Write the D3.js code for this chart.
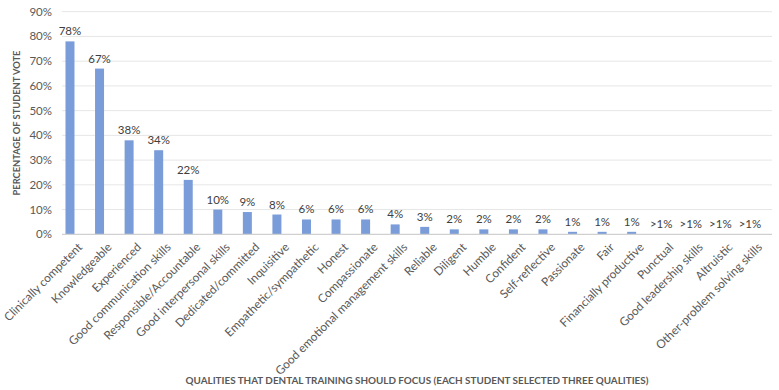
<!DOCTYPE html>
<html>
<head>
<meta charset="utf-8">
<script src="https://cdn.jsdelivr.net/npm/d3@7"></script>
<style>
  body { margin: 0; background: #fff; }
  svg text { font-family: Lato, "Open Sans", sans-serif; }
</style>
</head>
<body>
<div id="chart"></div>
<script>
// qualities, in the order shown on the x axis
const qualities = ["Clinically competent", "Knowledgeable", "Experienced", "Good communication skills",
  "Responsible/Accountable", "Good interpersonal skills", "Dedicated/committed", "Inquisitive",
  "Empathetic/sympathetic", "Honest", "Compassionate", "Good emotional management skills",
  "Reliable", "Diligent", "Humble", "Confident", "Self-reflective", "Passionate", "Fair",
  "Financially productive", "Punctual", "Good leadership skills", "Altruistic",
  "Other-problem solving skills"];
// percentage of student vote
const votes = [78, 67, 38, 34, 22, 10, 9, 8, 6, 6, 6, 4, 3, 2, 2, 2, 2, 1, 1, 1, 0, 0, 0, 0];
const voteLabels = ["78%", "67%", "38%", "34%", "22%", "10%", "9%", "8%", "6%", "6%", "6%", "4%",
  "3%", "2%", "2%", "2%", "2%", "1%", "1%", "1%", ">1%", ">1%", ">1%", ">1%"];
const yTicks = [0, 10, 20, 30, 40, 50, 60, 70, 80, 90];

const w = 779, h = 390;
const plotL = 62, plotR = 772, plotT = 11.7, plotB = 234.3;

const svg = d3.select("#chart").append("svg").attr("width", w).attr("height", h);

const x = d3.scaleBand().domain(qualities).range([55.2, 764.7]).paddingInner(0.7).paddingOuter(0.35);
const y = d3.scaleLinear().domain([0, 90]).range([plotB, plotT]);

// gridlines
svg.append("g").selectAll("line").data(yTicks.slice(1)).enter().append("line")
  .attr("x1", plotL).attr("x2", plotR)
  .attr("y1", d => y(d)).attr("y2", d => y(d))
  .attr("stroke", "#e6e6e6").attr("stroke-width", 1);

// y tick labels
svg.append("g").selectAll("text").data(yTicks).enter().append("text")
  .attr("x", 52).attr("y", d => y(d)).attr("dy", "0.35em")
  .attr("text-anchor", "end").attr("font-size", 11.5).attr("fill", "#595959")
  .text(d => d + "%");

// bars
const bw = 9;
svg.append("g").selectAll("rect").data(votes).enter().append("rect")
  .attr("x", (d, i) => x(qualities[i]) + x.bandwidth() / 2 - bw / 2)
  .attr("y", d => y(d))
  .attr("width", bw)
  .attr("height", d => y(0) - y(d))
  .attr("fill", "#7a9dda");

// axis line
svg.append("line").attr("x1", plotL).attr("x2", plotR).attr("y1", plotB).attr("y2", plotB)
  .attr("stroke", "#d0d0d0").attr("stroke-width", 1.3);

// data labels
svg.append("g").selectAll("text").data(votes).enter().append("text")
  .attr("x", (d, i) => x(qualities[i]) + x.bandwidth() / 2)
  .attr("y", d => y(d) - 6)
  .attr("text-anchor", "middle").attr("font-size", 11.5).attr("fill", "#404040")
  .text((d, i) => voteLabels[i]);

// category labels
svg.append("g").selectAll("text").data(qualities).enter().append("text")
  .attr("transform", d => "translate(" + (x(d) + x.bandwidth() / 2 + 10) + "," + 245 + ") rotate(-45)")
  .attr("text-anchor", "end").attr("dy", "0.35em")
  .attr("font-size", 11.8).attr("fill", "#595959")
  .text(d => d);

// axis titles
svg.append("text")
  .attr("transform", "translate(20," + (y(45)) + ") rotate(-90)")
  .attr("text-anchor", "middle").attr("font-size", 9.3).attr("font-weight", "bold").attr("fill", "#595959")
  .text("PERCENTAGE OF STUDENT VOTE");

svg.append("text")
  .attr("x", 417).attr("y", 384)
  .attr("text-anchor", "middle").attr("font-size", 9.9).attr("font-weight", "bold").attr("fill", "#595959")
  .text("QUALITIES THAT DENTAL TRAINING SHOULD FOCUS (EACH STUDENT SELECTED THREE QUALITIES)");
</script>
</body>
</html>
